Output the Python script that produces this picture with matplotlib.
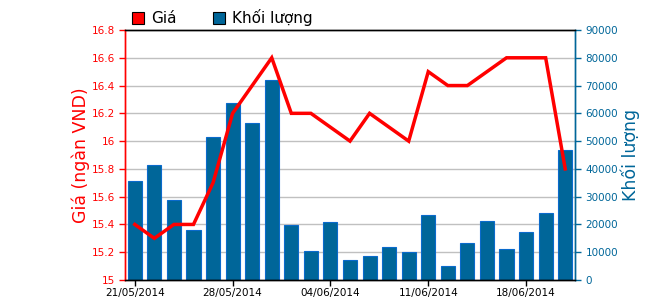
import matplotlib
matplotlib.use("Agg")
import matplotlib.pyplot as plt
from matplotlib.patches import Patch
import numpy as np

dates = ["21/05", "22/05", "23/05", "26/05", "27/05", "28/05", "29/05", "30/05",
         "02/06", "03/06", "04/06", "05/06", "06/06", "09/06", "10/06", "11/06",
         "12/06", "13/06", "16/06", "17/06", "18/06", "19/06", "20/06"]
price = [15.4, 15.3, 15.4, 15.4, 15.7, 16.2, 16.4, 16.6, 16.2, 16.2, 16.1, 16.0,
         16.2, 16.1, 16.0, 16.5, 16.4, 16.4, 16.5, 16.6, 16.6, 16.6, 15.8]
volume = [35600, 41400, 28800, 18000, 51600, 63700, 56500, 72000, 19800, 10400,
          20900, 7300, 8600, 11900, 10100, 23400, 5000, 13300, 21200, 11200,
          17300, 24100, 46800]
tick_idx = [0, 5, 10, 15, 20]
tick_labels = ["21/05/2014", "28/05/2014", "04/06/2014", "11/06/2014", "18/06/2014"]

RED = "#ff0000"
BLUE = "#006699"
plt.rcParams['font.family'] = ['DejaVu Sans']

fig = plt.figure(figsize=(6.5, 3.0), dpi=100)
ax = fig.add_axes([125/650, 20/300, 450/650, 250/300])
x = np.arange(len(dates))

ax2 = ax.twinx()
ax.set_zorder(ax2.get_zorder() + 1)
ax.patch.set_visible(False)

ax2.bar(x, volume, width=0.72, color=BLUE, edgecolor="#0a6acc", linewidth=0.8, zorder=2)
ax2.set_ylim(0, 90000)
ax2.set_yticks(np.arange(0, 90001, 10000))
ax2.tick_params(axis='y', colors=BLUE, labelsize=7.5, length=4, width=1)
ax2.set_ylabel("Khối lượng", color=BLUE, fontsize=12.5, labelpad=2)
for y in np.arange(10000, 90000, 10000):
    ax2.axhline(y, color="#c0c0c0", linewidth=1, zorder=0)

ax.plot(x, price, color=RED, linewidth=2.5, zorder=3, solid_joinstyle='miter')
ax.set_ylim(15, 16.8)
ax.set_xlim(-0.5, len(dates) - 0.5)
yt = [15, 15.2, 15.4, 15.6, 15.8, 16, 16.2, 16.4, 16.6, 16.8]
ax.set_yticks(yt)
ax.set_yticklabels([f"{v:g}" for v in yt])
ax.tick_params(axis='y', colors=RED, labelsize=7.5, length=4, width=1)
ax.set_ylabel("Giá (ngàn VND)", color=RED, fontsize=12.5, labelpad=1)
ax.set_xticks(tick_idx)
ax.set_xticklabels(tick_labels)
ax.tick_params(axis='x', labelsize=7.5, length=4, width=1, pad=2)

for a in (ax, ax2):
    a.spines['left'].set_color(RED)
    a.spines['right'].set_color(BLUE)
    a.spines['top'].set_color("black")
    a.spines['bottom'].set_color("black")
    for s in a.spines.values():
        s.set_linewidth(1)

handles = [Patch(facecolor=RED, edgecolor="black", linewidth=0.8, label="Giá"),
           Patch(facecolor=BLUE, edgecolor="black", linewidth=0.8, label="Khối lượng")]
fig.legend(handles=handles, loc='lower left', bbox_to_anchor=(132/650, 274/300),
           ncol=2, frameon=False, fontsize=11, handlelength=0.8, handleheight=0.8,
           handletextpad=0.45, columnspacing=2.4, borderaxespad=0, borderpad=0)

fig.savefig("out.png", dpi=100)
